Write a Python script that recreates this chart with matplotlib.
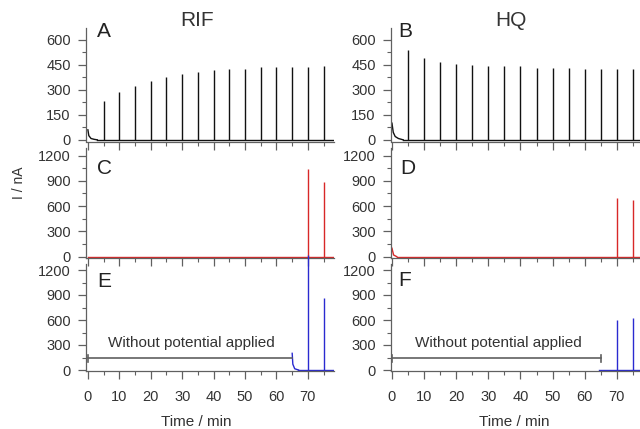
import matplotlib
matplotlib.use("Agg")
import matplotlib.pyplot as plt
from matplotlib.ticker import MultipleLocator

plt.rcParams["font.family"] = ["Liberation Sans", "DejaVu Sans"]

# peak times (min) and heights (nA)
peak_t = [5, 10, 15, 20, 25, 30, 35, 40, 45, 50, 55, 60, 65, 70, 75]
rif_a = [234, 284, 320, 354, 376, 396, 408, 418, 426, 426, 434, 436, 434, 436, 440]
hq_b = [540, 490, 466, 456, 450, 440, 440, 440, 430, 430, 430, 426, 426, 424, 424]
late_t = [70, 75]
rif_c = [1040, 890]
hq_d = [694, 673]
rif_e = [1380, 860]
hq_f = [600, 620]

# initial decays
rif_a_start_t = [0, 0.3, 1, 2, 3]
rif_a_start_i = [60, 25, 8, 3, 0]
hq_b_start_t = [0, 0.4, 1, 2, 3.5]
hq_b_start_i = [100, 45, 20, 8, 0]
hq_d_start_t = [0, 0.5, 1.5]
hq_d_start_i = [100, 20, 0]
rif_e_start_t = [65, 65.2, 65.8, 67]
rif_e_start_i = [200, 70, 15, 0]

# "without potential applied" period
bar_start, bar_end, bar_level = 0, 65, 140
end_left, end_right = 78.3, 77.2

BLACK = "#111111"
RED = "#d82828"
BLUE = "#2a2ad0"
GRAY = "#606060"
TXT = "#333333"

fig = plt.figure(figsize=(6.4, 4.29), dpi=100)
W, H = 640, 429


def make_ax(x0, x1, y0, y1):
    return fig.add_axes([x0 / W, 1 - y1 / H, (x1 - x0) / W, (y1 - y0) / H])


cols = [(86, 334, (-0.6, end_left)), (391, 640, (-0.3, end_right))]
rows = [(28, 141.5, (-10, 671)), (148, 257.5, (-10, 1290)), (264, 371, (-12, 1272))]

axes = {}
for r, (y0, y1, ylim) in enumerate(rows):
    for c, (x0, x1, xlim) in enumerate(cols):
        ax = make_ax(x0, x1, y0, y1)
        ax.set_facecolor("none")
        ax.set_xlim(*xlim)
        ax.set_ylim(*ylim)
        for s in ["top", "right"]:
            ax.spines[s].set_visible(False)
        for s in ["left", "bottom"]:
            ax.spines[s].set_color(GRAY)
            ax.spines[s].set_linewidth(0.9)
        ax.xaxis.set_major_locator(MultipleLocator(10))
        ax.xaxis.set_minor_locator(MultipleLocator(5))
        if r == 0:
            ax.yaxis.set_major_locator(MultipleLocator(150))
            ax.yaxis.set_minor_locator(MultipleLocator(75))
        else:
            ax.yaxis.set_major_locator(MultipleLocator(300))
            ax.yaxis.set_minor_locator(MultipleLocator(150))
        ax.tick_params(which="major", direction="out", length=6, width=0.9,
                       color=GRAY, labelcolor=TXT, labelsize=10.5)
        ax.tick_params(axis="y", which="major", pad=5)
        ax.tick_params(axis="x", which="major", pad=8)
        ax.tick_params(which="minor", direction="out", length=3, width=0.8, color=GRAY)
        if r < 2:
            ax.tick_params(axis="x", labelbottom=False)
        axes[(r, c)] = ax

lw = 1.0
# A: RIF black
ax = axes[(0, 0)]
ax.plot([rif_a_start_t[-1], end_left], [0, 0], color=BLACK, lw=lw)
ax.plot(rif_a_start_t, rif_a_start_i, color=BLACK, lw=lw)
ax.vlines(peak_t, 0, rif_a, color=BLACK, lw=lw)
# B: HQ black
ax = axes[(0, 1)]
ax.plot([hq_b_start_t[-1], end_right], [0, 0], color=BLACK, lw=lw)
ax.plot(hq_b_start_t, hq_b_start_i, color=BLACK, lw=lw)
ax.vlines(peak_t, 0, hq_b, color=BLACK, lw=lw)
# C: RIF red
ax = axes[(1, 0)]
ax.plot([0, end_left], [0, 0], color=RED, lw=lw)
ax.vlines(late_t, 0, rif_c, color=RED, lw=lw)
# D: HQ red
ax = axes[(1, 1)]
ax.plot([hq_d_start_t[-1], end_right], [0, 0], color=RED, lw=lw)
ax.plot(hq_d_start_t, hq_d_start_i, color=RED, lw=lw)
ax.vlines(late_t, 0, hq_d, color=RED, lw=lw)
# E: RIF blue
ax = axes[(2, 0)]
ax.plot([rif_e_start_t[-1], end_left], [0, 0], color=BLUE, lw=lw)
ax.plot(rif_e_start_t, rif_e_start_i, color=BLUE, lw=lw)
ax.vlines(late_t, 0, rif_e, color=BLUE, lw=lw, clip_on=False)
ax.plot([bar_start, bar_end], [bar_level, bar_level], color=GRAY, lw=1.2)
ax.plot([bar_start, bar_start], [bar_level - 40, bar_level + 40], color=GRAY, lw=1.2)
# F: HQ blue
ax = axes[(2, 1)]
ax.plot([bar_end - 0.5, end_right], [0, 0], color=BLUE, lw=lw)
ax.vlines(late_t, 0, hq_f, color=BLUE, lw=lw)
ax.plot([bar_start, bar_end], [bar_level, bar_level], color=GRAY, lw=1.2)
ax.plot([bar_start, bar_start], [bar_level - 40, bar_level + 40], color=GRAY, lw=1.2)
ax.plot([bar_end, bar_end], [bar_level - 40, bar_level + 40], color=GRAY, lw=1.2)

for c in range(2):
    axes[(2, c)].text(33, 320, "Without potential applied", ha="center", va="center",
                      fontsize=11, color=TXT)

fig.text(196 / W, 1 - 422 / H, "Time / min", ha="center", va="center", fontsize=11, color=TXT)
fig.text(514 / W, 1 - 422 / H, "Time / min", ha="center", va="center", fontsize=11, color=TXT)

# panel letters (left edge x, centre y in pixels)
letters = ["A", "B", "C", "D", "E", "F"]
letter_x = [97, 398, 97, 400, 97, 398]
letter_y = [31.5, 31.5, 168, 168, 281.5, 281]
for letter, lx, ly in zip(letters, letter_x, letter_y):
    fig.text(lx / W, 1 - ly / H, letter, ha="left", va="center", fontsize=15, color="#222222")

fig.text(197 / W, 1 - 21 / H, "RIF", ha="center", va="center", fontsize=15, color=TXT)
fig.text(511 / W, 1 - 21 / H, "HQ", ha="center", va="center", fontsize=15, color=TXT)
fig.text(19 / W, 1 - 183 / H, "I / nA", ha="center", va="center", rotation=90,
         fontsize=10, color=TXT)

fig.savefig("out.png", dpi=100)
